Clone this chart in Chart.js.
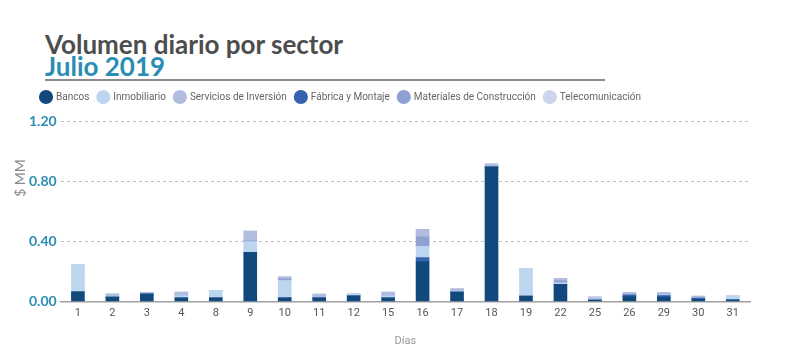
<!DOCTYPE html>
<html>
<head>
<meta charset="utf-8">
<script src="https://cdn.jsdelivr.net/npm/chart.js@4/dist/chart.umd.min.js"></script>
<style>
  html, body { margin: 0; padding: 0; background: #fff; }
  #wrap { position: relative; width: 800px; height: 358px; overflow: hidden; }
  #title { position: absolute; left: 45px; top: 33px; font-family: Lato, "Open Sans", sans-serif; font-weight: 700; font-size: 26px; line-height: 22px; color: #4d4d4d; white-space: nowrap; }
  #title .sub { color: #2a8db3; }
  #rule { position: absolute; left: 45px; top: 79px; width: 560px; height: 2px; background: #8c8c8c; }
  canvas { position: absolute; left: 0; top: 0; }
</style>
</head>
<body>
<div id="wrap">
  <div id="title">Volumen diario por sector<br><span class="sub">Julio 2019</span></div>
  <div id="rule"></div>
  <canvas id="c" width="800" height="358"></canvas>
</div>
<script>
const days = ['1','2','3','4','8','9','10','11','12','15','16','17','18','19','22','25','26','29','30','31'];
const bancos       = [0.065,0.030,0.048,0.025,0.025,0.328,0.025,0.025,0.038,0.025,0.264,0.063,0.895,0.036,0.115,0.010,0.033,0.030,0.015,0.012];
const fabrica      = [0,0,0.005,0,0,0,0,0,0,0,0.029,0,0,0,0,0,0.012,0.010,0.008,0];
const inmobiliario = [0.178,0,0,0.015,0.050,0.070,0.115,0,0.012,0.013,0.075,0,0,0.180,0.010,0,0,0,0,0.024];
const materiales   = [0,0,0,0,0,0.005,0.012,0,0,0,0.062,0,0,0,0.015,0,0,0,0,0];
const servicios    = [0,0.022,0.008,0.023,0,0.065,0.013,0.025,0,0.025,0.050,0.024,0.020,0,0.014,0.015,0.016,0.021,0.013,0];
const telecom      = [0,0,0,0,0,0,0,0,0,0,0,0,0,0,0,0.010,0,0,0,0];
const yTicks = [0, 0.4, 0.8, 1.2];
const yTitle = '$ MM';

// stacking order (bottom to top) with legend rank
const series = [
  { label: 'Bancos', data: bancos, color: '#12497d', rank: 0 },
  { label: 'Fábrica y Montaje', data: fabrica, color: '#3563ae', rank: 3 },
  { label: 'Inmobiliario', data: inmobiliario, color: '#bcd6ef', rank: 1 },
  { label: 'Materiales de Construcción', data: materiales, color: '#8fa0d3', rank: 4 },
  { label: 'Servicios de Inversión', data: servicios, color: '#b0bde0', rank: 2 },
  { label: 'Telecomunicación', data: telecom, color: '#cdd5ee', rank: 5 }
];

const shiftLegend = {
  id: 'shiftLegend',
  beforeInit(chart) {
    const lg = chart.legend;
    const origFit = lg.fit;
    lg.fit = function() { origFit.call(this); this.height += 9; };
  },
  afterLayout(chart) {
    const lg = chart.legend;
    lg.left += 7; lg.right += 7;
  }
};

// y-axis title placed above the vertical centre, as in the reference
const yAxisTitle = {
  id: 'yAxisTitle',
  afterDraw(chart) {
    const ctx = chart.ctx;
    ctx.save();
    ctx.translate(20, 178);
    ctx.rotate(-Math.PI / 2);
    ctx.fillStyle = '#888';
    ctx.font = '14px Lato, sans-serif';
    ctx.textAlign = 'center';
    ctx.textBaseline = 'middle';
    ctx.fillText(yTitle, 0, 0);
    ctx.restore();
  }
};

new Chart(document.getElementById('c'), {
  type: 'bar',
  data: {
    labels: days,
    datasets: series.map(s => ({
      label: s.label,
      data: s.data,
      backgroundColor: s.color,
      borderWidth: 0,
      barThickness: 13
    }))
  },
  plugins: [shiftLegend, yAxisTitle],
  options: {
    responsive: false,
    animation: false,
    layout: { padding: { top: 83, left: 25, right: 50, bottom: 6 } },
    plugins: {
      tooltip: { enabled: false },
      legend: {
        position: 'top',
        align: 'start',
        labels: {
          usePointStyle: true,
          pointStyle: 'circle',
          boxWidth: 11,
          boxHeight: 11,
          padding: 9,
          color: '#666',
          font: { family: 'Roboto, sans-serif', size: 10 },
          sort: (a, b) => series[a.datasetIndex].rank - series[b.datasetIndex].rank
        }
      }
    },
    scales: {
      x: {
        stacked: true,
        grid: { display: false, drawTicks: false },
        border: { display: true, color: '#a0a0a0', width: 1.5 },
        ticks: { color: '#555', font: { family: 'Roboto, sans-serif', size: 11 }, padding: 5 },
        title: { display: true, text: 'Días', color: '#999', font: { family: 'Roboto, sans-serif', size: 11 }, padding: { top: 10 } }
      },
      y: {
        stacked: true,
        min: 0,
        max: 1.2,
        afterBuildTicks: (scale) => { scale.ticks = yTicks.map(v => ({ value: v })); },
        grid: { color: '#bdbdbd', drawTicks: false, lineWidth: 1 },
        border: { display: false, dash: [3, 3] },
        ticks: {
          color: '#2a8db3',
          font: { family: 'Lato, sans-serif', size: 14, weight: 'bold' },
          padding: 4,
          callback: (v) => Number(v).toFixed(2)
        },
        title: { display: false }
      }
    }
  }
});
</script>
</body>
</html>
